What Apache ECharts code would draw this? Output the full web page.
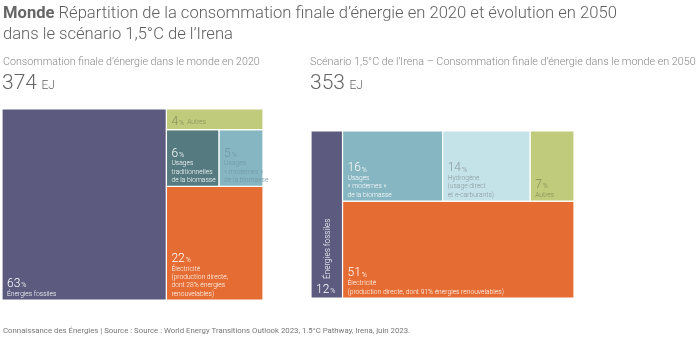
<!DOCTYPE html>
<html><head><meta charset="utf-8">
<script src="https://cdn.jsdelivr.net/npm/echarts@6/dist/echarts.min.js"></script>
<style>html,body{margin:0;padding:0;background:#fff}#c{width:700px;height:337px}</style>
</head><body><div id="c"></div><script>
// ---- data ----
const leftNames = ['Énergies fossiles', 'Électricité', 'Usages traditionnelles de la biomasse', 'Usages « modernes » de la biomasse', 'Autres'];
const leftLabels = ['Énergies fossiles', 'Électricité\n(production directe,\ndont 28% énergies\nrenouvelables)', 'Usages\ntraditionnelles\nde la biomasse', 'Usages\n« modernes »\nde la biomasse', 'Autres'];
const leftValues = [63, 22, 6, 5, 4];
const rightNames = ['Énergies fossiles', 'Électricité', 'Usages « modernes » de la biomasse', 'Hydrogène', 'Autres'];
const rightLabels = ['Énergies fossiles', 'Électricité\n(production directe, dont 91% énergies renouvelables)', 'Usages\n« modernes »\nde la biomasse', 'Hydrogène\n(usage direct\net e-carburants)', 'Autres'];
const rightValues = [12, 51, 16, 14, 7];
const totals = [374, 353];
const totalUnit = 'EJ';

// ---- structure (nesting of tiles, by index) ----
const leftTree = ['h', 0, ['v', 4, ['h', 2, 3], 1]];
const rightTree = ['h', 0, ['v', ['h', 2, 3, 4], 1]];

// ---- styles ----
const leftColors = ['#5c5a7e', '#e56c32', '#557b80', '#86b6c1', '#c1cb7c'];
const rightColors = ['#5c5a7e', '#e56c32', '#86b6c1', '#c3e3e9', '#c1cb7c'];
const leftText = ['#ffffff', '#ffffff', '#ffffff', '#6f97a0', '#858c55'];
const rightText = ['#ffffff', '#ffffff', '#ffffff', '#8a9699', '#858c55'];

function sumNode(n, vals) {
  if (typeof n === 'number') return vals[n];
  let s = 0; for (let i = 1; i < n.length; i++) s += sumNode(n[i], vals); return s;
}
function layout(n, vals, x0, y0, x1, y1, out) {
  if (typeof n === 'number') { out[n] = [x0, x1, y0, y1, n]; return; }
  const tot = sumNode(n, vals);
  let acc = 0;
  for (let i = 1; i < n.length; i++) {
    const v = sumNode(n[i], vals);
    const a = acc / tot, b = (acc + v) / tot;
    if (n[0] === 'h') layout(n[i], vals, x0 + (x1 - x0) * a, y0, x0 + (x1 - x0) * b, y1, out);
    else layout(n[i], vals, x0, y0 + (y1 - y0) * a, x1, y0 + (y1 - y0) * b, out);
    acc += v;
  }
}
const leftData = []; layout(leftTree, leftValues, 0, 0, 100, 100, leftData);
const rightData = []; layout(rightTree, rightValues, 0, 0, 100, 100, rightData);

const FONT = 'Roboto, "Noto Sans", sans-serif';
const richBase = {
  n: { fontSize: 12, fontWeight: 300, lineHeight: 14, verticalAlign: 'bottom', fontFamily: FONT },
  p: { fontSize: 7, fontWeight: 300, lineHeight: 14, verticalAlign: 'bottom', fontFamily: FONT, padding: [0, 0, 1, 1] },
  t: { fontSize: 6.7, fontWeight: 300, lineHeight: 8.3, fontFamily: FONT },
  ti: { fontSize: 6.7, fontWeight: 300, lineHeight: 14, verticalAlign: 'bottom', fontFamily: FONT, padding: [0, 0, 2, 0] }
};

function makeRender(values, labels, colors, textColors, side) {
  return function (params, api) {
    const idx = api.value(4);
    const p0 = api.coord([api.value(0), api.value(2)]);
    const p1 = api.coord([api.value(1), api.value(3)]);
    const w = p1[0] - p0[0], h = p1[1] - p0[1];
    const children = [{
      type: 'rect',
      shape: { x: p0[0], y: p0[1], width: w, height: h },
      style: { fill: colors[idx], stroke: '#fff', lineWidth: 1.2 }
    }];
    const col = textColors[idx];
    const name = labels[idx];
    let txt;
    if (side === 'right' && idx === 0) {
      children.push({
        type: 'text', x: p0[0] + w / 2 + 1, y: p1[1] - 19, rotation: Math.PI / 2,
        style: { text: name, fill: col, fontSize: 8.2, fontFamily: FONT, fontWeight: 300, align: 'left', verticalAlign: 'middle' }
      });
      txt = '{n|' + values[idx] + '}{p|%}';
    } else if (name === 'Autres' && side === 'left') {
      txt = '{n|' + values[idx] + '}{p|%} {ti|' + name + '}';
    } else {
      txt = '{n|' + values[idx] + '}{p|%}\n' + name.split('\n').map(s => '{t|' + s + '}').join('\n');
    }
    children.push({
      type: 'text', x: p0[0] + 5, y: p1[1] - 2,
      style: { text: txt, rich: richBase, fill: col, align: 'left', verticalAlign: 'bottom', fontFamily: FONT, fontWeight: 300 }
    });
    return { type: 'group', children: children };
  };
}

const totalRich = {
  n: { fontSize: 21, fontWeight: 300, color: '#666', fontFamily: FONT, verticalAlign: 'bottom', lineHeight: 24 },
  u: { fontSize: 12, fontWeight: 300, color: '#666', fontFamily: FONT, verticalAlign: 'bottom', lineHeight: 24, padding: [0, 0, 2, 0] }
};

const chart = echarts.init(document.getElementById('c'), null, { renderer: 'canvas' });
chart.setOption({
  animation: false,
  textStyle: { fontFamily: FONT },
  title: [
    { text: '{b|Monde} Répartition de la consommation finale d’énergie en 2020 et évolution en 2050\ndans le scénario 1,5°C de l’Irena',
      left: 3, top: 3, padding: 0, textStyle: { fontSize: 16.6, fontWeight: 300, color: '#5f5f5f', lineHeight: 21, fontFamily: FONT,
        rich: { b: { fontSize: 16.6, fontWeight: 'bold', color: '#666', fontFamily: FONT, lineHeight: 21 } } } },
    { text: 'Consommation finale d’énergie dans le monde en 2020', left: 3, top: 57, padding: 0,
      textStyle: { fontSize: 10.7, fontWeight: 300, color: '#888', fontFamily: FONT } },
    { text: '{n|' + totals[0] + '} {u|' + totalUnit + '}', left: 2, top: 70, padding: 0,
      textStyle: { rich: totalRich } },
    { text: 'Scénario 1,5°C de l’Irena – Consommation finale d’énergie dans le monde en 2050', left: 310, top: 57, padding: 0,
      textStyle: { fontSize: 10.8, fontWeight: 300, color: '#888', fontFamily: FONT } },
    { text: '{n|' + totals[1] + '} {u|' + totalUnit + '}', left: 310, top: 70, padding: 0,
      textStyle: { rich: totalRich } },
    { text: 'Connaissance des Énergies | Source : Source : World Energy Transitions Outlook 2023, 1.5°C Pathway, Irena, juin 2023.',
      left: 3, top: 327, padding: 0, textStyle: { fontSize: 7.8, fontWeight: 'normal', color: '#777', fontFamily: FONT } }
  ],
  grid: [
    { left: 2, top: 109, width: 261, height: 191 },
    { left: 311, top: 131, width: 263, height: 167 }
  ],
  xAxis: [
    { type: 'value', gridIndex: 0, min: 0, max: 100, show: false },
    { type: 'value', gridIndex: 1, min: 0, max: 100, show: false }
  ],
  yAxis: [
    { type: 'value', gridIndex: 0, min: 0, max: 100, inverse: true, show: false },
    { type: 'value', gridIndex: 1, min: 0, max: 100, inverse: true, show: false }
  ],
  series: [
    { type: 'custom', name: '2020', xAxisIndex: 0, yAxisIndex: 0, data: leftData,
      renderItem: makeRender(leftValues, leftLabels, leftColors, leftText, 'left'), clip: false },
    { type: 'custom', name: '2050', xAxisIndex: 1, yAxisIndex: 1, data: rightData,
      renderItem: makeRender(rightValues, rightLabels, rightColors, rightText, 'right'), clip: false }
  ]
});
</script></body></html>
